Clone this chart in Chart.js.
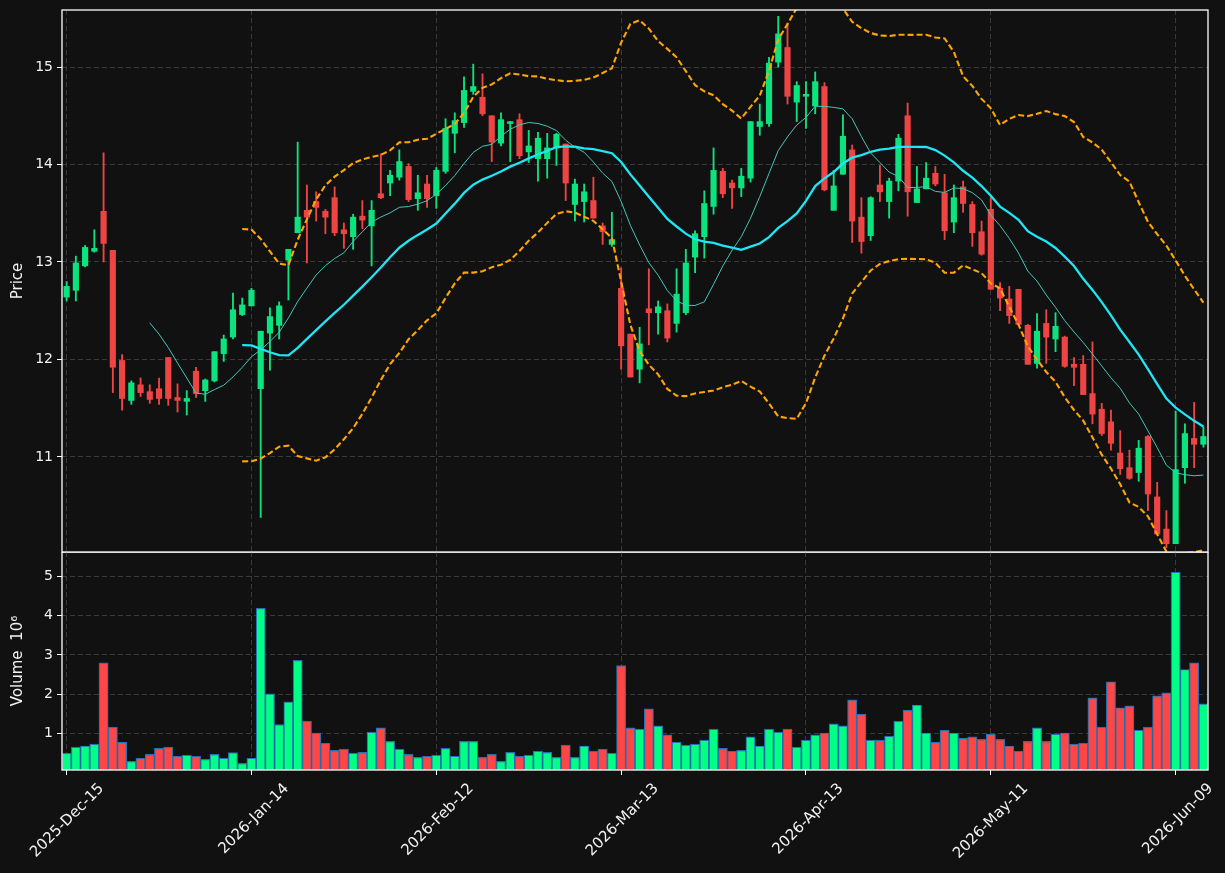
<!DOCTYPE html>
<html>
<head>
<meta charset="utf-8">
<script src="https://cdn.jsdelivr.net/npm/chart.js@4.4.1/dist/chart.umd.min.js"></script>
<style>
  html, body { margin: 0; padding: 0; background: #111111; }
  #wrap { position: relative; width: 1225px; height: 873px; overflow: hidden; background: #111111; }
  canvas { position: absolute; left: 0; }
</style>
</head>
<body>
<div id="wrap">
  <canvas id="price" width="1225" height="560" style="top:0px"></canvas>
  <canvas id="volume" width="1225" height="321" style="top:552px"></canvas>
</div>
<script>
// daily OHLC (one entry per trading day)
const opens  = [12.64,12.71,12.96,13.11,13.52,13.12,11.99,11.58,11.74,11.67,11.70,12.02,11.61,11.57,11.88,11.68,11.78,12.06,12.23,12.46,
                12.55,11.70,12.27,12.35,13.02,13.30,13.53,13.62,13.52,13.66,13.33,13.26,13.47,13.37,13.70,13.81,13.87,13.98,13.65,13.80,
                13.68,13.93,14.32,14.43,14.75,14.69,14.50,14.22,14.42,14.46,14.13,14.06,14.06,14.17,14.21,13.59,13.62,13.63,13.37,13.18,
                12.73,12.26,11.90,12.52,12.48,12.50,12.37,12.48,13.05,13.26,13.57,13.93,13.81,13.76,13.86,14.39,14.42,15.05,15.20,14.64,
                14.70,14.60,14.80,13.53,13.90,14.15,13.46,13.27,13.79,13.62,13.83,14.50,13.61,13.75,13.91,13.71,13.41,13.77,13.59,13.31,
                13.54,12.73,12.62,12.72,12.35,11.96,12.37,12.21,12.23,11.95,11.95,11.65,11.49,11.36,11.04,10.89,10.84,11.21,10.59,10.26,
                10.11,10.89,11.19,11.13];
const highs  = [12.80,13.06,13.17,13.33,14.12,13.12,12.05,11.78,11.81,11.74,11.81,12.02,11.75,11.68,11.92,11.80,12.08,12.25,12.68,12.63,
                12.73,12.29,12.53,12.59,13.13,14.23,13.79,13.72,13.54,13.77,13.40,13.49,13.63,13.63,14.11,13.94,14.15,14.01,13.89,13.89,
                13.97,14.47,14.53,14.90,15.03,14.93,14.50,14.53,14.44,14.52,14.35,14.33,14.32,14.32,14.21,13.85,13.80,13.87,13.40,13.51,
                12.94,12.26,12.33,12.93,12.60,12.57,12.93,13.13,13.32,13.73,14.17,13.96,13.84,13.96,14.44,14.62,15.10,15.52,15.45,14.85,
                14.85,14.95,14.84,13.94,14.51,14.20,13.66,13.67,13.99,13.86,14.31,14.63,13.98,14.02,13.98,13.90,13.79,13.83,13.62,13.42,
                13.66,12.79,12.75,12.72,12.36,12.47,12.51,12.48,12.24,12.02,12.04,12.18,11.55,11.48,11.27,11.07,11.17,11.22,10.74,10.45,
                11.47,11.34,11.56,11.31];
const lows   = [12.60,12.60,12.95,13.10,13.00,11.66,11.48,11.54,11.62,11.55,11.54,11.53,11.46,11.43,11.61,11.57,11.77,11.98,12.21,12.45,
                12.55,10.38,11.89,12.21,12.61,13.30,12.99,13.42,13.29,13.27,13.14,13.13,13.34,12.96,13.65,13.68,13.84,13.62,13.53,13.56,
                13.55,13.91,14.12,14.38,14.72,14.50,14.03,14.19,14.03,14.06,14.02,13.83,13.86,13.99,13.63,13.42,13.41,13.45,13.18,13.16,
                11.90,11.82,11.76,12.15,12.26,12.18,12.28,12.46,12.89,13.04,13.49,13.66,13.55,13.67,13.82,14.30,14.39,15.00,14.62,14.44,
                14.37,14.52,13.73,13.53,13.90,13.20,13.09,13.22,13.62,13.45,13.73,13.47,13.61,13.75,13.78,13.23,13.30,13.51,13.16,13.07,
                12.72,12.50,12.37,12.36,11.95,11.91,11.96,12.08,11.92,11.73,11.64,11.34,11.22,11.07,10.82,10.77,10.75,10.45,10.21,10.07,
                10.11,10.73,10.89,11.10];
const closes = [12.75,12.99,13.15,13.14,13.19,11.92,11.60,11.76,11.66,11.59,11.60,11.60,11.58,11.60,11.65,11.79,12.08,12.21,12.51,12.56,
                12.71,12.29,12.44,12.55,13.13,13.46,13.46,13.56,13.46,13.30,13.29,13.46,13.43,13.53,13.66,13.89,14.03,13.64,13.71,13.65,
                13.94,14.37,14.45,14.76,14.80,14.52,14.23,14.46,14.44,14.09,14.19,14.27,14.17,14.31,13.81,13.80,13.72,13.45,13.31,13.23,
                12.14,11.82,12.16,12.48,12.54,12.22,12.67,12.99,13.29,13.60,13.94,13.70,13.76,13.88,14.44,14.44,15.04,15.34,14.70,14.81,
                14.72,14.85,13.74,13.78,14.29,13.42,13.21,13.66,13.72,13.83,14.27,13.72,13.75,13.86,13.80,13.32,13.66,13.60,13.30,13.08,
                12.72,12.63,12.45,12.36,11.95,12.29,12.23,12.34,11.93,11.92,11.64,11.44,11.24,11.14,10.88,10.78,11.09,10.62,10.21,10.11,
                10.87,11.24,11.13,11.21];
// volume in millions of shares
const volumes = [0.51,0.66,0.69,0.74,2.80,1.17,0.79,0.30,0.38,0.48,0.63,0.66,0.43,0.46,0.43,0.35,0.48,0.38,0.52,0.25,
                 0.38,4.18,2.01,1.23,1.81,2.86,1.32,1.02,0.76,0.58,0.61,0.51,0.53,1.04,1.15,0.81,0.61,0.48,0.40,0.43,
                 0.46,0.63,0.43,0.81,0.81,0.40,0.48,0.30,0.53,0.43,0.46,0.56,0.53,0.40,0.71,0.40,0.69,0.56,0.61,0.51,
                 2.73,1.15,1.12,1.63,1.20,0.97,0.79,0.71,0.74,0.84,1.12,0.63,0.56,0.58,0.92,0.69,1.12,1.04,1.12,0.66,
                 0.84,0.97,1.02,1.25,1.20,1.86,1.50,0.84,0.84,0.94,1.32,1.60,1.73,1.02,0.79,1.09,1.02,0.89,0.92,0.86,
                 0.99,0.86,0.69,0.56,0.81,1.15,0.81,0.99,1.02,0.74,0.76,1.91,1.17,2.32,1.66,1.71,1.09,1.17,1.96,2.04,
                 5.10,2.63,2.80,1.76];

const tickIndex  = [0, 20, 40, 60, 80, 100, 120];
const tickLabels = ['2025-Dec-15', '2026-Jan-14', '2026-Feb-12', '2026-Mar-13', '2026-Apr-13', '2026-May-11', '2026-Jun-09'];
const priceTicks  = [11, 12, 13, 14, 15];
const volumeTicks = [1, 2, 3, 4, 5];

// moving averages and bollinger bands, computed from the closes like the original
function sma(values, n) {
  return values.map((v, i) => {
    if (i < n - 1) return null;
    let s = 0;
    for (let k = i - n + 1; k <= i; k++) s += values[k];
    return s / n;
  });
}
function bollinger(values, n, mult, sign) {
  const mid = sma(values, n);
  return values.map((v, i) => {
    if (mid[i] === null) return null;
    let s = 0;
    for (let k = i - n + 1; k <= i; k++) s += (values[k] - mid[i]) ** 2;
    return mid[i] + sign * mult * Math.sqrt(s / n);
  });
}

const FONT = 'DejaVu Sans';
const TEXT = '#f2f2f2';
const GRID = '#3a3a3a';
const UP = '#0be37f', DOWN = '#ef4444';
const UP_VOL = '#00ff84', DOWN_VOL = '#ff4646';

const isUp = closes.map((c, i) => c >= opens[i]);
const xy = arr => arr.map((y, i) => ({ x: i, y: y }));

const frame = {
  id: 'frame',
  afterDraw(chart) {
    const a = chart.chartArea;
    const ctx = chart.ctx;
    ctx.save();
    ctx.strokeStyle = '#ffffff';
    ctx.lineWidth = 1.3;
    ctx.strokeRect(a.left, a.top, a.right - a.left, a.bottom - a.top);
    ctx.restore();
  }
};

function xAxis(showLabels) {
  return {
    type: 'linear', min: -0.5, max: 123.5, offset: false,
    afterBuildTicks: s => { s.ticks = tickIndex.map(v => ({ value: v })); },
    afterFit: s => { s.height = showLabels ? 103 : 0; s.paddingLeft = 0; s.paddingRight = 0; },
    grid: { color: GRID, offset: false, drawTicks: showLabels, tickLength: 5, tickColor: '#ffffff', tickWidth: 1, tickBorderDash: [] },
    border: { display: false, dash: [5, 3] },
    ticks: {
      display: showLabels, autoSkip: false, color: TEXT, font: { family: FONT, size: 15 },
      minRotation: 45, maxRotation: 45, padding: 5, labelOffset: 35,
      callback: v => tickLabels[tickIndex.indexOf(v)]
    }
  };
}

function yAxis(min, max, ticks, title) {
  return {
    min: min, max: max,
    afterBuildTicks: s => { s.ticks = ticks.map(v => ({ value: v })); },
    afterFit: s => { s.width = 62; s.paddingTop = 0; s.paddingBottom = 0; },
    grid: { color: GRID, drawTicks: true, tickLength: 5, tickColor: '#ffffff', tickWidth: 1, tickBorderDash: [] },
    border: { display: false, dash: [5, 3] },
    ticks: { color: TEXT, font: { family: FONT, size: 14 }, padding: 4, callback: v => String(v) },
    title: { display: true, text: title, color: TEXT, font: { family: FONT, size: 15 }, padding: { top: 9, bottom: 0 } }
  };
}

new Chart(document.getElementById('price'), {
  type: 'bar',
  data: {
    datasets: [
      { type: 'line', label: 'MA10', data: xy(sma(closes, 10)), borderColor: '#45c7b9', borderWidth: 1,
        pointRadius: 0, tension: 0, order: 0 },
      { type: 'line', label: 'MA20', data: xy(sma(closes, 20)), borderColor: '#1ee6f5', borderWidth: 2.3,
        pointRadius: 0, tension: 0, order: 0 },
      { type: 'line', label: 'BB upper', data: xy(bollinger(closes, 20, 2, 1)), borderColor: '#ffa500', borderWidth: 2.1,
        borderDash: [6, 3], pointRadius: 0, tension: 0, order: 0 },
      { type: 'line', label: 'BB lower', data: xy(bollinger(closes, 20, 2, -1)), borderColor: '#ffa500', borderWidth: 2.1,
        borderDash: [6, 3], pointRadius: 0, tension: 0, order: 0 },
      { label: 'body', data: opens.map((o, i) => ({ x: i, y: [o, closes[i]] })),
        backgroundColor: isUp.map(u => u ? UP : DOWN), barThickness: 5.5, grouped: false, borderWidth: 0, order: 1 },
      { label: 'wick', data: lows.map((l, i) => ({ x: i, y: [l, highs[i]] })),
        backgroundColor: isUp.map(u => u ? UP : DOWN), barThickness: 1.2, grouped: false, borderWidth: 0, order: 2 }
    ]
  },
  options: {
    responsive: false, animation: false, devicePixelRatio: 1,
    layout: { padding: { top: 10, right: 17, bottom: 8, left: 0 } },
    plugins: { legend: { display: false }, tooltip: { enabled: false } },
    scales: { x: xAxis(false), y: yAxis(10.025, 15.585, priceTicks, 'Price') }
  },
  plugins: [frame]
});

new Chart(document.getElementById('volume'), {
  type: 'bar',
  data: {
    datasets: [
      { label: 'Volume', data: xy(volumes),
        backgroundColor: isUp.map(u => u ? UP_VOL : DOWN_VOL), borderColor: '#2670b0', borderWidth: 1.2,
        barPercentage: 1, categoryPercentage: 1, grouped: false }
    ]
  },
  options: {
    responsive: false, animation: false, devicePixelRatio: 1,
    layout: { padding: { top: 0, right: 17, bottom: 0, left: 0 } },
    plugins: { legend: { display: false }, tooltip: { enabled: false } },
    scales: { x: xAxis(true), y: yAxis(0.081, 5.61, volumeTicks, 'Volume  10\u2076') }
  },
  plugins: [frame]
});
</script>
</body>
</html>
